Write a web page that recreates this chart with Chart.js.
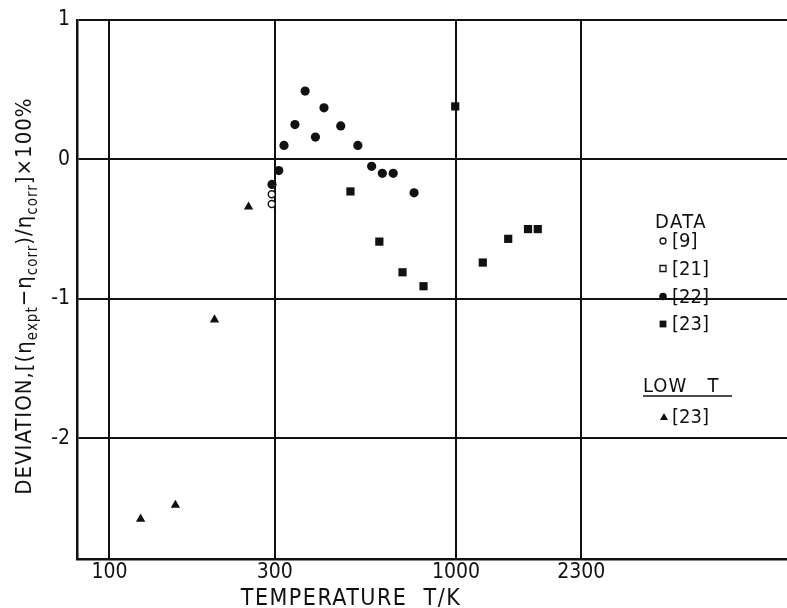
<!DOCTYPE html>
<html>
<head>
<meta charset="utf-8">
<script src="https://cdn.jsdelivr.net/npm/chart.js@4/dist/chart.umd.min.js"></script>
<style>
html,body{margin:0;padding:0;background:#fff;}
canvas{display:block;}
</style>
</head>
<body>
<canvas id="c" width="787" height="608"></canvas>
<script>
// ---- data ----
const xTickValues = [100, 300, 1000, 2300];
const yTickValues = [-2, -1, 0, 1];

const temp9 = [294, 294];
const dev9 = [-0.25, -0.32];

const temp21 = [];
const dev21 = [];

const temp22 = [294.5, 308, 319, 343, 367, 393, 416, 465, 521, 571, 613, 659, 757];
const dev22 = [-0.18, -0.08, 0.10, 0.25, 0.49, 0.16, 0.37, 0.24, 0.10, -0.05, -0.10, -0.10, -0.24];

const temp23 = [496, 601, 701, 806, 995, 1195, 1415, 1614, 1722];
const dev23 = [-0.23, -0.59, -0.81, -0.91, 0.38, -0.74, -0.57, -0.50, -0.50];

const tempLow23 = [123, 155, 201, 252];
const devLow23 = [-2.58, -2.48, -1.15, -0.34];

const xTitle = 'TEMPERATURE  T/K';
const legendTitle = 'DATA';
const legendLowTitle = 'LOW   T';

const toPts = (xs, ys) => xs.map((x, i) => ({x: x, y: ys[i]}));

const FONT = '"DejaVu Sans Condensed", "DejaVu Sans", sans-serif';
const INK = '#111';

const overlay = {
  id: 'overlay',
  afterDraw(chart) {
    const ctx = chart.ctx;
    ctx.save();
    ctx.fillStyle = INK;
    ctx.strokeStyle = INK;

    // x-axis title
    ctx.font = '23px ' + FONT;
    ctx.letterSpacing = '1.5px';
    ctx.textAlign = 'center';
    ctx.textBaseline = 'alphabetic';
    ctx.fillText(xTitle, 351, 605);

    // y-axis title with subscripts
    const segs = [
      {t: 'DEVIATION,[(\u03B7', sub: false},
      {t: 'expt', sub: true},
      {t: '\u2212\u03B7', sub: false},
      {t: 'corr', sub: true},
      {t: ')/\u03B7', sub: false},
      {t: 'corr', sub: true},
      {t: ']\u00D7100%', sub: false}
    ];
    const mainF = '22px ' + FONT, subF = '15px ' + FONT;
    ctx.letterSpacing = '1px';
    let total = 0;
    segs.forEach(s => { ctx.font = s.sub ? subF : mainF; s.w = ctx.measureText(s.t).width; total += s.w; });
    ctx.save();
    ctx.translate(31, 296 + total / 2);
    ctx.rotate(-Math.PI / 2);
    ctx.textAlign = 'left';
    let px = 0;
    segs.forEach(s => {
      ctx.font = s.sub ? subF : mainF;
      ctx.fillText(s.t, px, s.sub ? 6 : 0);
      px += s.w;
    });
    ctx.restore();

    // legend
    ctx.textAlign = 'left';
    ctx.font = '20px ' + FONT;
    ctx.letterSpacing = '1.5px';
    ctx.textBaseline = 'alphabetic';
    ctx.fillText(legendTitle, 655, 228);
    ctx.letterSpacing = '0px';
    ctx.textBaseline = 'middle';
    const mx = 663, tx = 672;
    const items = [
      {y: 241, label: '[9]', style: 'ocircle'},
      {y: 268.5, label: '[21]', style: 'orect'},
      {y: 296.5, label: '[22]', style: 'circle'},
      {y: 324, label: '[23]', style: 'rect'}
    ];
    const marker = (style, x, y) => {
      ctx.beginPath();
      if (style === 'ocircle') {
        ctx.arc(x, y, 3, 0, Math.PI * 2);
        ctx.lineWidth = 1.3; ctx.stroke();
      } else if (style === 'orect') {
        ctx.rect(x - 3, y - 3, 6, 6);
        ctx.lineWidth = 1.3; ctx.stroke();
      } else if (style === 'circle') {
        ctx.arc(x, y, 3.8, 0, Math.PI * 2); ctx.fill();
      } else if (style === 'rect') {
        ctx.rect(x - 3.4, y - 3.4, 6.8, 6.8); ctx.fill();
      } else if (style === 'tri') {
        ctx.moveTo(x, y - 4); ctx.lineTo(x + 4, y + 3); ctx.lineTo(x - 4, y + 3); ctx.closePath(); ctx.fill();
      }
    };
    items.forEach(it => { marker(it.style, mx, it.y); ctx.fillText(it.label, tx, it.y + 1); });
    ctx.textBaseline = 'alphabetic';
    ctx.letterSpacing = '1px';
    ctx.fillText(legendLowTitle, 643, 392);
    ctx.letterSpacing = '0px';
    ctx.beginPath();
    ctx.lineWidth = 1.5;
    ctx.moveTo(643, 396); ctx.lineTo(732, 396); ctx.stroke();
    ctx.textBaseline = 'middle';
    marker('tri', 664, 417);
    ctx.fillText('[23]', tx, 418);
    ctx.restore();
  }
};

new Chart(document.getElementById('c'), {
  type: 'scatter',
  data: {
    datasets: [
      {label: '[9]', data: toPts(temp9, dev9), pointStyle: 'circle', pointRadius: 3.5,
       backgroundColor: '#fff', borderColor: INK, borderWidth: 1.4},
      {label: '[21]', data: toPts(temp21, dev21), pointStyle: 'rect', pointRadius: 4,
       backgroundColor: '#fff', borderColor: INK, borderWidth: 1.4},
      {label: '[22]', data: toPts(temp22, dev22), pointStyle: 'circle', pointRadius: 4.6,
       backgroundColor: INK, borderColor: INK, borderWidth: 0},
      {label: '[23]', data: toPts(temp23, dev23), pointStyle: 'rect', pointRadius: 5.8,
       backgroundColor: INK, borderColor: INK, borderWidth: 0},
      {label: 'LOW T [23]', data: toPts(tempLow23, devLow23), pointStyle: 'triangle', pointRadius: 5.4,
       backgroundColor: INK, borderColor: INK, borderWidth: 0}
    ]
  },
  options: {
    responsive: false,
    animation: false,
    devicePixelRatio: 1,
    layout: {autoPadding: false, padding: {top: 20, left: 0, right: 0, bottom: 0}},
    plugins: {legend: {display: false}, title: {display: false}, tooltip: {enabled: false}},
    scales: {
      x: {
        type: 'logarithmic',
        min: 80.6,
        max: 9022,
        afterBuildTicks: s => { s.ticks = xTickValues.map(v => ({value: v})); },
        afterFit: s => { s.height = 49; s.paddingLeft = 0; s.paddingRight = 0; },
        ticks: {
          callback: v => String(v),
          font: {family: FONT, size: 21},
          color: INK,
          padding: 1,
          maxRotation: 0,
          autoSkip: false
        },
        grid: {color: INK, lineWidth: 2, drawTicks: false},
        border: {color: INK, width: 2.5}
      },
      y: {
        type: 'linear',
        min: -2.867,
        max: 1,
        afterBuildTicks: s => { s.ticks = yTickValues.map(v => ({value: v})); },
        afterFit: s => { s.width = 77; },
        ticks: {
          callback: v => String(v),
          font: {family: FONT, size: 21},
          color: INK,
          padding: 7
        },
        grid: {color: INK, lineWidth: 2, drawTicks: false},
        border: {color: INK, width: 2.5}
      }
    }
  },
  plugins: [overlay]
});
</script>
</body>
</html>
